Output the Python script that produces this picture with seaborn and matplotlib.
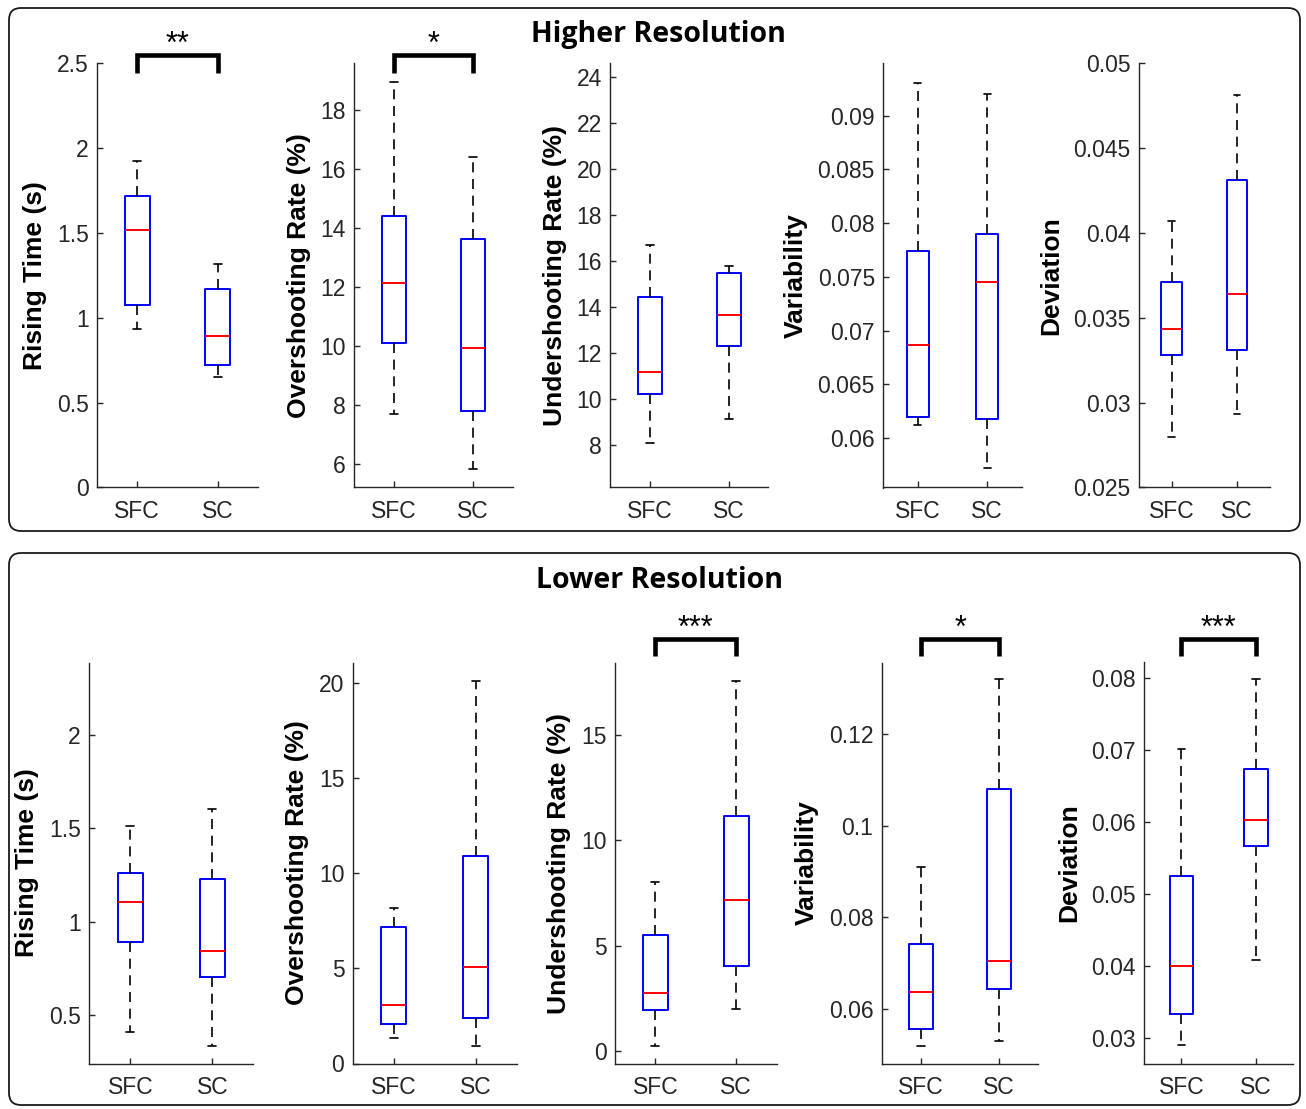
import numpy as np
import pandas as pd
import seaborn as sns
import matplotlib
matplotlib.use("Agg")
from matplotlib import pyplot as plt
from matplotlib import transforms
from matplotlib.patches import FancyBboxPatch

groups = ["SFC", "SC"]
metric_labels = ["Rising Time (s)", "Overshooting Rate (%)", "Undershooting Rate (%)",
                 "Variability", "Deviation"]

higher_sfc = [
    [0.935, 1.077, 1.518, 1.716, 1.925],
    [7.67, 10.08, 12.12, 14.40, 18.94],
    [8.12, 10.25, 11.18, 14.44, 16.70],
    [0.0612, 0.0620, 0.0687, 0.0774, 0.0930],
    [0.0280, 0.0328, 0.03435, 0.0371, 0.0407],
]
higher_sc = [
    [0.653, 0.720, 0.890, 1.167, 1.317],
    [5.81, 7.79, 9.94, 13.63, 16.41],
    [9.15, 12.30, 13.65, 15.47, 15.80],
    [0.0572, 0.0618, 0.0745, 0.0790, 0.0920],
    [0.0293, 0.0331, 0.0364, 0.0431, 0.0481],
]
lower_sfc = [
    [0.411, 0.890, 1.103, 1.263, 1.512],
    [1.32, 2.06, 3.06, 7.18, 8.20],
    [0.24, 1.93, 2.77, 5.50, 8.03],
    [0.0521, 0.0557, 0.0637, 0.0742, 0.0909],
    [0.0290, 0.0333, 0.0400, 0.0525, 0.0701],
]
lower_sc = [
    [0.338, 0.706, 0.845, 1.228, 1.605],
    [0.91, 2.37, 5.08, 10.92, 20.14],
    [2.01, 4.04, 7.19, 11.16, 17.57],
    [0.0531, 0.0644, 0.0706, 0.1079, 0.1318],
    [0.0409, 0.0567, 0.0603, 0.0673, 0.0798],
]
higher_stars = ["**", "*", "", "", ""]
lower_stars = ["", "", "***", "*", "***"]

higher_yticks = [
    [0, 0.5, 1, 1.5, 2, 2.5],
    [6, 8, 10, 12, 14, 16, 18],
    [8, 10, 12, 14, 16, 18, 20, 22, 24],
    [0.06, 0.065, 0.07, 0.075, 0.08, 0.085, 0.09],
    [0.025, 0.03, 0.035, 0.04, 0.045, 0.05],
]
lower_yticks = [
    [0.5, 1, 1.5, 2],
    [0, 5, 10, 15, 20],
    [0, 5, 10, 15],
    [0.06, 0.08, 0.1, 0.12],
    [0.03, 0.04, 0.05, 0.06, 0.07, 0.08],
]
higher_ylim = [(0, 2.5), (5.19, 19.6), (6.17, 24.6), (0.0554, 0.0949), (0.025, 0.05)]
lower_ylim = [(0.242, 2.386), (0, 21.1), (-0.6, 18.45), (0.0482, 0.1355), (0.0265, 0.0821)]

W, H = 1306, 1109
DARK = "#262626"


def draw_panel(ax, sfc, sc, ylabel, yticks, ylim, stars, bracket_y, leg_y):
    data = pd.DataFrame()
    data["group"] = [groups[0]] * len(sfc) + [groups[1]] * len(sc)
    data["value"] = list(sfc) + list(sc)

    sns.boxplot(data=data, x="group", y="value", order=groups, ax=ax,
                width=0.31, whis=(0, 100), fill=False, color="blue",
                linewidth=1.4, showfliers=False, capwidths=0.1,
                boxprops=dict(color="blue", linewidth=1.4),
                medianprops=dict(color="red", linewidth=1.4),
                whiskerprops=dict(color="black", linestyle=(0, (6, 4)), linewidth=1.2),
                capprops=dict(color="black", linewidth=1.2))

    ax.set_xlim(-0.5, 1.5)
    ax.set_ylim(*ylim)
    ax.set_yticks(yticks)
    ax.set_yticklabels([f"{t:g}" for t in yticks])
    ax.set_xlabel("")
    ax.set_ylabel(ylabel, fontsize=19, fontweight="bold", color="black", labelpad=7)
    ax.set_facecolor("white")
    ax.grid(False)
    for side in ["top", "right"]:
        ax.spines[side].set_visible(False)
    for side in ["left", "bottom"]:
        ax.spines[side].set_color(DARK)
        ax.spines[side].set_linewidth(1.0)
    ax.tick_params(direction="in", length=4, width=1, colors=DARK, labelsize=16.5)
    ax.tick_params(axis="x", pad=9)
    ax.tick_params(axis="y", pad=6)

    if stars:
        trans = transforms.blended_transform_factory(ax.transData, ax.transAxes)
        ax.plot([0, 0, 1, 1], [leg_y, bracket_y, bracket_y, leg_y], transform=trans,
                clip_on=False, color="black", lw=3.3,
                solid_joinstyle="miter", solid_capstyle="butt")
        ax.text(0.5, bracket_y + 0.004, stars, transform=trans, ha="center",
                va="baseline", fontsize=22, color="black")


def process():
    sns.set_style("ticks")
    plt.rcParams["font.family"] = ["Liberation Sans", "DejaVu Sans"]
    fig = plt.figure(figsize=(W / 100, H / 100), dpi=100)

    # rounded frames around each row
    for top_px, bot_px in [(8, 531), (553, 1105)]:
        frame = FancyBboxPatch((9 / 100, (H - bot_px) / 100), (1300 - 9) / 100,
                               (bot_px - top_px) / 100,
                               boxstyle="round,pad=0,rounding_size=0.12",
                               transform=fig.dpi_scale_trans, facecolor="none",
                               edgecolor="#1a1a1a", linewidth=1.3)
        fig.add_artist(frame)

    fig.text(658 / W, 1 - 41.7 / H, "Higher Resolution", ha="center", va="baseline",
             fontsize=20.5, fontweight="bold", color="black",
             family=["Open Sans", "DejaVu Sans"])
    fig.text(659 / W, 1 - 588.3 / H, "Lower Resolution", ha="center", va="baseline",
             fontsize=20.5, fontweight="bold", color="black",
             family=["Open Sans", "DejaVu Sans"])

    top_x = [(97, 258), (354.4, 512.6), (610.3, 768.4), (883.3, 1021.7), (1138.7, 1270)]
    bot_x = [(89.3, 253.3), (352.7, 516.7), (615, 776.7), (881.7, 1038.3), (1144, 1293.3)]
    rows = [
        (top_x, 63, 487.5, higher_sfc, higher_sc, higher_yticks, higher_ylim, higher_stars, 1.019, 0.977),
        (bot_x, 662.5, 1063.5, lower_sfc, lower_sc, lower_yticks, lower_ylim, lower_stars, 1.059, 1.016),
    ]
    for xs, y_top, y_bot, sfc, sc, ticks, lims, stars, br_y, leg_y in rows:
        for i, (x0, x1) in enumerate(xs):
            ax = fig.add_axes([x0 / W, 1 - y_bot / H, (x1 - x0) / W, (y_bot - y_top) / H])
            draw_panel(ax, sfc[i], sc[i], metric_labels[i], ticks[i], lims[i],
                       stars[i], br_y, leg_y)

    fig.savefig("out.png", dpi=100, facecolor="white")


if __name__ == '__main__':
    process()
